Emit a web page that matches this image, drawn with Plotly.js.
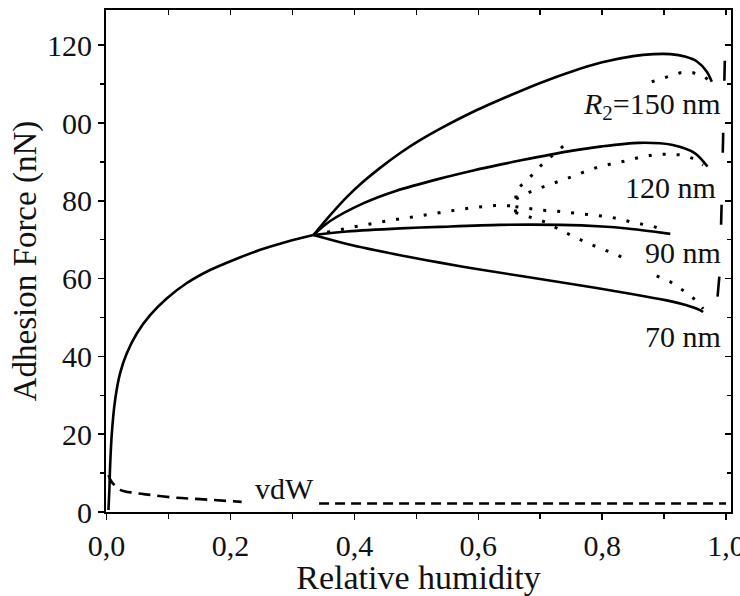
<!DOCTYPE html>
<html>
<head>
<meta charset="utf-8">
<script src="https://cdn.plot.ly/plotly-3.0.1.min.js"></script>
<style>html,body{margin:0;padding:0;background:#fff;}#chart{width:740px;height:596px;}</style>
</head>
<body>
<div id="chart"></div>
<script>
// ---- data ----
// main capillary curve (solid) up to the branching point
const mainX = [0.003, 0.0045, 0.0056, 0.0084, 0.0137, 0.0218, 0.0326, 0.0487, 0.0702, 0.097, 0.129, 0.167, 0.205, 0.248, 0.291, 0.334];
const mainY = [0.5, 6, 11.6, 20.2, 28.8, 35.7, 40.8, 45.9, 50.6, 54.9, 58.8, 62.2, 64.8, 67.4, 69.5, 71.2];

// solid branches for each R2
const r150X = [0.334, 0.361, 0.388, 0.415, 0.441, 0.474, 0.506, 0.538, 0.592, 0.65, 0.70, 0.75, 0.80, 0.85, 0.883, 0.91, 0.935, 0.953, 0.969, 0.977];
const r150Y = [71.2, 76.3, 81.0, 85.0, 88.4, 92.3, 95.6, 98.5, 102.9, 107.0, 110.3, 113.2, 115.6, 117.2, 117.7, 117.7, 117, 115.8, 113.2, 110.6];
const r120X = [0.334, 0.361, 0.415, 0.468, 0.538, 0.592, 0.635, 0.669, 0.745, 0.80, 0.859, 0.912, 0.95, 0.97];
const r120Y = [71.2, 74.8, 79.4, 82.6, 85.7, 87.8, 89.3, 90.4, 92.7, 94.0, 94.9, 94.4, 92.2, 88.8];
const r90X = [0.334, 0.388, 0.474, 0.538, 0.635, 0.732, 0.80, 0.84, 0.882, 0.91];
const r90Y = [71.2, 72.1, 72.9, 73.3, 73.8, 73.8, 73.4, 72.9, 72.1, 71.5];
const r70X = [0.334, 0.388, 0.474, 0.538, 0.60, 0.743, 0.85, 0.904, 0.935, 0.958, 0.963];
const r70Y = [71.2, 68.9, 66.0, 64.1, 62.4, 58.8, 56.0, 54.4, 53.2, 51.9, 51.4];

// dotted curves (common stem, then one branch per R2); null = hidden behind a label
const dotStemX = [0.334, 0.361, 0.406, 0.452, 0.495, 0.541, 0.584, 0.627, 0.657];
const dotStemY = [71.2, 72.1, 73.5, 74.8, 75.9, 77.1, 78.1, 78.8, 78.7];
const dot150X = [0.66, 0.661, 0.682, 0.702, 0.748, null, 0.88, 0.904, 0.926, 0.947, 0.966, 0.973];
const dot150Y = [77, 82.8, 85.8, 89.2, 95.6, null, 110.6, 111.9, 112.9, 112.9, 111.9, 110.6];
const dot120X = [0.661, 0.684, 0.705, 0.729, 0.751, 0.772, 0.794, 0.818, 0.84, 0.861, 0.883, 0.904, 0.926, 0.947, 0.963];
const dot120Y = [80.5, 82.3, 83.6, 84.9, 86.2, 87.5, 88.7, 89.6, 90.3, 91.2, 91.8, 92, 91.8, 90.9, 89.2];
const dot90X = [0.66, 0.681, 0.702, 0.724, 0.745, 0.767, 0.789, 0.81, 0.832, 0.848, 0.864, 0.885, 0.904];
const dot90Y = [78.5, 78.1, 77.6, 77.4, 77.0, 76.6, 76.3, 75.9, 75.2, 74.5, 74.0, 73.3, 72.1];
const dot70X = [0.66, 0.689, 0.711, 0.732, 0.753, 0.775, 0.797, 0.818, 0.842, null, 0.888, 0.91, 0.934, 0.955, 0.963];
const dot70Y = [77, 75.5, 74.4, 72.5, 70.8, 69.2, 67.8, 66.5, 64.8, null, 60.7, 59.2, 56.6, 54.0, 52.2];

// van der Waals contribution (dashed)
const vdwX = [0.003, 0.008, 0.022, 0.045, 0.07, 0.11, 0.151, 0.218];
const vdwY = [9.5, 7.8, 5.7, 4.9, 4.4, 3.7, 3.3, 2.6];
const vdwFarX = [0.343, 1.0];
const vdwFarY = [2.2, 2.2];

// dashed line near saturation
const edgeX = [0.998, 0.996, 0.993, 0.99, 0.985];
const edgeY = [116, 100, 80, 62, 53];

// ticks
const xTickVals = [0, 0.2, 0.4, 0.6, 0.8, 1.0];
const xTickText = ["0,0", "0,2", "0,4", "0,6", "0,8", "1,0"];
const yTickVals = [0, 20, 40, 60, 80, 100, 120];
const yTickText = ["0", "20", "40", "60", "80", "00", "120"];

const labelTexts = ["<i>R</i><sub>2</sub>=150 nm", "120 nm", "90 nm", "70 nm", "vdW"];
const labelX = [0.995, 0.987, 0.995, 0.995, 0.236];
const labelY = [104.4, 83.5, 66.8, 45, 6];
const labelAnchor = ["right", "right", "right", "right", "left"];

// ---- build ----
const FONT = "Liberation Serif, Times New Roman, serif";
const ink = "#000";
function solid(x, y) { return {x, y, mode: "lines", type: "scatter", line: {color: ink, width: 2.6, shape: "spline", smoothing: 0.8}, hoverinfo: "skip"}; }
function dotted(x, y) { return {x, y, mode: "lines", type: "scatter", line: {color: ink, width: 3, dash: "3px,11px"}, connectgaps: false, hoverinfo: "skip"}; }
function dashed(x, y, pattern, shape) { return {x, y, mode: "lines", type: "scatter", line: {color: ink, width: 2.6, dash: pattern, shape: shape || "linear"}, hoverinfo: "skip"}; }

const traces = [
  solid(mainX, mainY),
  solid(r150X, r150Y),
  solid(r120X, r120Y),
  solid(r90X, r90Y),
  solid(r70X, r70Y),
  dotted(dotStemX, dotStemY),
  dotted(dot150X, dot150Y),
  dotted(dot120X, dot120Y),
  dotted(dot90X, dot90Y),
  dotted(dot70X, dot70Y),
  dashed(vdwX, vdwY, "12px,7px", "spline"),
  dashed(vdwFarX, vdwFarY, "10px,6px"),
  dashed(edgeX, edgeY, "20px,52px"),
  {x: [], y: [], xaxis: "x2", yaxis: "y2", type: "scatter", mode: "lines", hoverinfo: "skip"}
];

const xr = [-0.001, 1.008];
const yr = [0, 129.05];

const annotations = labelTexts.map((t, i) => ({
  text: t, x: labelX[i], y: labelY[i], xref: "x", yref: "y",
  xanchor: labelAnchor[i], yanchor: "middle", showarrow: false,
  font: {family: FONT, size: 30, color: "#111"}
}));

const layout = {
  width: 740, height: 596,
  margin: {l: 106, r: 9, t: 10, b: 84},
  paper_bgcolor: "#fff", plot_bgcolor: "#fff",
  showlegend: false,
  separators: ",.",
  font: {family: FONT, color: "#111"},
  xaxis: {
    range: xr, showgrid: false, zeroline: false,
    showline: true, linewidth: 2, linecolor: ink,
    ticks: "outside", ticklen: 6, tickwidth: 1.5, tickcolor: ink,
    tickmode: "array", tickvals: xTickVals, ticktext: xTickText,
    ticklabeloverflow: "allow",
    tickfont: {family: FONT, size: 30, color: "#111"},
    minor: {ticks: "outside", tickmode: "linear", tick0: 0, dtick: 0.1, ticklen: 5, tickwidth: 1.5, tickcolor: ink, showgrid: false},
    title: {text: "Relative humidity", font: {family: FONT, size: 34, color: "#111"}, standoff: 4},
    automargin: false
  },
  yaxis: {
    range: yr, showgrid: false, zeroline: false,
    showline: true, linewidth: 2, linecolor: ink,
    ticks: "outside", ticklen: 6, tickwidth: 1.5, tickcolor: ink,
    tickmode: "array", tickvals: yTickVals, ticktext: yTickText,
    ticklabeloverflow: "allow",
    tickfont: {family: FONT, size: 30, color: "#111"},
    minor: {ticks: "outside", tickmode: "linear", tick0: 0, dtick: 10, ticklen: 4, tickwidth: 1.5, tickcolor: ink, showgrid: false},
    title: {text: "Adhesion Force (nN)", font: {family: FONT, size: 33, color: "#111"}, standoff: 0},
    automargin: false
  },
  xaxis2: {
    overlaying: "x", side: "top", anchor: "y2", range: xr,
    showgrid: false, zeroline: false, showline: true, linewidth: 2, linecolor: ink,
    ticks: "inside", tickmode: "linear", tick0: 0, dtick: 0.1, ticklen: 5, tickwidth: 1.5, tickcolor: ink,
    showticklabels: false
  },
  yaxis2: {
    overlaying: "y", side: "right", anchor: "x2", range: yr,
    showgrid: false, zeroline: false, showline: true, linewidth: 2, linecolor: ink,
    ticks: "inside", tickmode: "linear", tick0: 0, dtick: 20, ticklen: 6, tickwidth: 1.5, tickcolor: ink,
    minor: {ticks: "inside", tickmode: "linear", tick0: 0, dtick: 10, ticklen: 4, tickwidth: 1.5, tickcolor: ink, showgrid: false},
    showticklabels: false
  },
  annotations: annotations
};

Plotly.newPlot("chart", traces, layout, {staticPlot: true, displayModeBar: false});
</script>
</body>
</html>
